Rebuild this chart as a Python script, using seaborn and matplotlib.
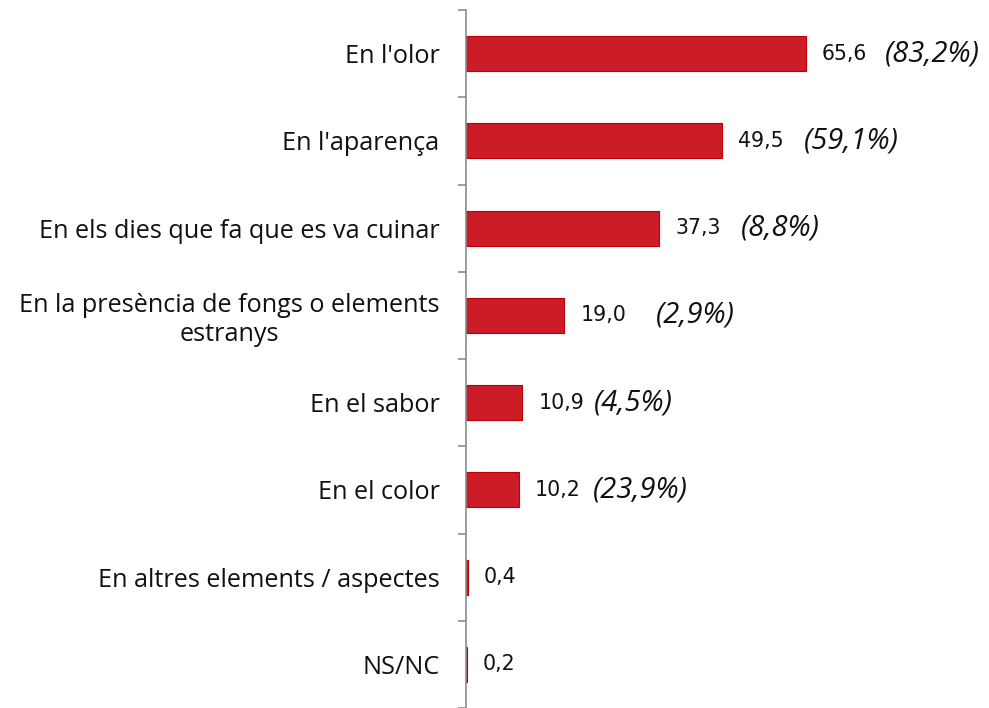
import matplotlib
matplotlib.use("Agg")
import matplotlib.pyplot as plt
import seaborn as sns
import pandas as pd

categories = [
    "En l'olor",
    "En l'aparença",
    "En els dies que fa que es va cuinar",
    "En la presència de fongs o elements\nestranys",
    "En el sabor",
    "En el color",
    "En altres elements / aspectes",
    "NS/NC",
]
values = [65.6, 49.5, 37.3, 19.0, 10.9, 10.2, 0.4, 0.2]
value_labels = ["65,6", "49,5", "37,3", "19,0", "10,9", "10,2", "0,4", "0,2"]
pct_labels = ["(83,2%)", "(59,1%)", "(8,8%)", "(2,9%)", "(4,5%)", "(23,9%)", "", ""]

# styling: horizontal gap (pixels) between the value and the percentage label
pct_gaps_px = [18, 20, 20, 30, 10, 12, 0, 0]

sns.set_theme(style="white")
plt.rcParams["font.family"] = ["Open Sans", "DejaVu Sans"]

df = pd.DataFrame({"cat": categories, "val": values})

fig = plt.figure(figsize=(9.89, 7.08), dpi=100)
ax = fig.add_axes([466 / 989, 0.0, 1 - 466 / 989, 1 - 10 / 708])

sns.barplot(data=df, x="val", y="cat", orient="h", color="#CC1C28",
            edgecolor="#C00000", linewidth=0.8, width=0.4, saturation=1, ax=ax)

ax.set_xlim(0, 101)
ax.set_ylim(7.5, -0.5)
ax.set_xlabel("")
ax.set_ylabel("")
ax.set_xticks([])

for s in ["top", "right", "bottom"]:
    ax.spines[s].set_visible(False)
ax.spines["left"].set_color("#8C8C8C")
ax.spines["left"].set_linewidth(1.2)

n = len(categories)
ax.set_yticks([i - 0.5 for i in range(n + 1)])
ax.set_yticklabels([])
ax.set_yticks(range(n), minor=True)
ax.set_yticklabels(categories, minor=True, fontsize=18.2, color="#111111")
ax.tick_params(axis="y", which="major", length=6, width=1.2, color="#8C8C8C", left=True)
ax.tick_params(axis="y", which="minor", length=0, pad=19)
for t in ax.get_yticklabels(minor=True):
    t.set_multialignment("center")
    t.set_linespacing(1.2)

fig.canvas.draw()
for i, (v, vl, pl, g) in enumerate(zip(values, value_labels, pct_labels, pct_gaps_px)):
    a = ax.annotate(vl, xy=(v, i), xytext=(11.5, 0), textcoords="offset points",
                    ha="left", va="center", fontsize=14.8, color="#111111",
                    fontfamily="DejaVu Sans")
    if pl:
        fig.canvas.draw()
        bb = a.get_window_extent()
        x_disp = bb.x1 + g
        xd = ax.transData.inverted().transform((x_disp, 0))[0]
        ax.text(xd, i, pl, ha="left", va="center", fontsize=21,
                style="italic", color="#111111")

fig.savefig("out.png", dpi=100)
